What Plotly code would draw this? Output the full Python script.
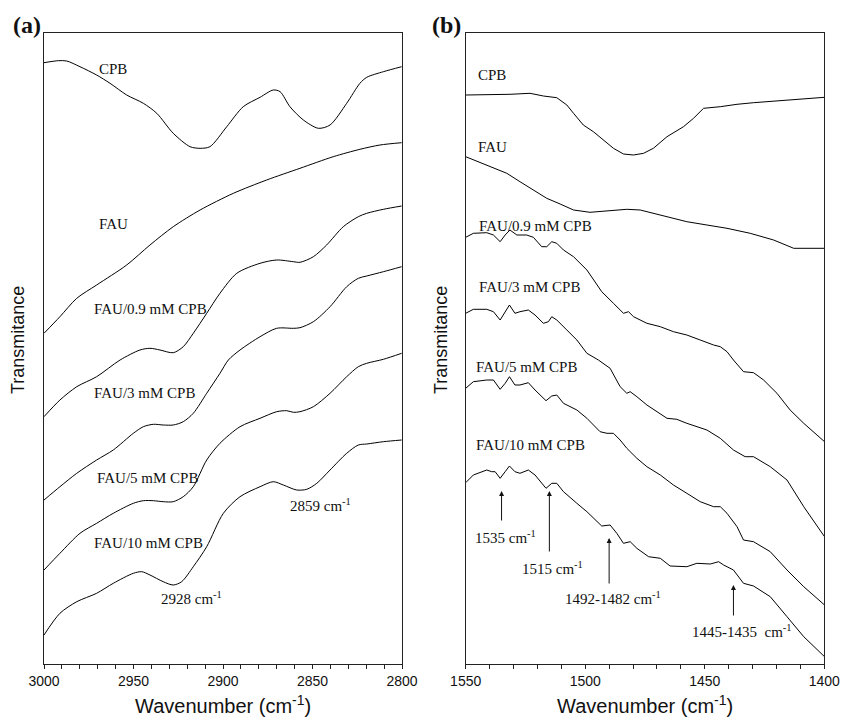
import plotly.graph_objects as go

# ---------------- Panel (a): C-H stretching region ----------------
wn_a = {
    "CPB": [3000, 2992, 2987.3, 2979.9, 2970.6, 2963.1, 2953.8, 2944.5, 2937, 2927.8, 2918.4, 2912.8,
            2907.3, 2897.9, 2888.7, 2879.3, 2871.9, 2868.1, 2862.6, 2855.1, 2846.7, 2840.2, 2830.9,
            2823.5, 2819.7, 2810.4, 2800.2],
    "FAU": [3000, 2991.1, 2981.7, 2970.6, 2953.8, 2940.8, 2927.8, 2912.8, 2894.2, 2875.6, 2857,
            2838.4, 2823.5, 2812.3, 2800.2],
    "FAU/0.9": [3000, 2991.1, 2981.7, 2970.6, 2957.5, 2946.4, 2940.8, 2935.2, 2927.8, 2922.2, 2916.6,
                2909.1, 2901.7, 2892.3, 2879.3, 2870, 2860.7, 2857, 2849.5, 2842.1, 2832.8, 2824.4,
                2819.7, 2810.4, 2800.2],
    "FAU/3": [3000, 2991.1, 2981.7, 2970.6, 2961.3, 2950.1, 2944.5, 2938.9, 2933.4, 2927.8, 2922.2,
              2916.6, 2909.1, 2901.7, 2897, 2890.5, 2879.3, 2870, 2860.7, 2857, 2849.5, 2840.2,
              2830.9, 2824.4, 2819.7, 2810.4, 2800.2],
    "FAU/5": [3000, 2991.1, 2979.9, 2970.6, 2961.3, 2950.1, 2944.5, 2938.9, 2933.4, 2927.8, 2922.2,
              2916.6, 2909.1, 2901.7, 2890.5, 2879.3, 2870, 2864.4, 2860.7, 2857, 2849.5, 2840.2,
              2830.9, 2824.4, 2819.7, 2810.4, 2800.2],
    "FAU/10": [3000, 2991.1, 2981.7, 2970.6, 2961.3, 2950.1, 2945.4, 2940.8, 2933.4, 2927.8, 2923.1,
               2916.6, 2909.1, 2899.8, 2890.5, 2879.3, 2871.9, 2866.3, 2858.8, 2853.2, 2847.6, 2840.2,
               2830.9, 2824.4, 2819.7, 2810.4, 2800.2],
}
t_a = {
    "CPB": [601.3, 603.3, 603, 597.3, 589, 580.7, 569, 560.7, 550.7, 530.7, 517.3, 515.7, 517.3, 537.3,
            557.3, 566.7, 574, 572.3, 557.3, 544, 535.7, 539, 560.7, 580.7, 586.7, 592.3, 597.3],
    "FAU": [330.7, 347.3, 365.7, 379, 399, 419, 437.3, 454, 470.7, 484, 495.7, 507.3, 514.7, 519, 521.3],
    "FAU/0.9": [247.3, 264, 277.3, 287.3, 304, 314, 315.7, 314, 311.3, 317.3, 330.7, 350.7, 370.7,
                390.7, 400.7, 404, 402.3, 401.7, 407.3, 419, 437.3, 447.3, 450.7, 454.7, 458],
    "FAU/3": [164, 177.3, 190.7, 204, 214, 230.7, 237.3, 239.7, 239, 239, 242.3, 250.7, 270.7, 290.7,
              304, 314, 327.3, 335.7, 335.7, 336.3, 342.3, 357.3, 377.3, 385.7, 388, 392.3, 397.3],
    "FAU/5": [94, 110.7, 130.7, 140.7, 150.7, 160.7, 163.3, 163.3, 162.3, 162.3, 167.3, 177.3, 204,
              220.7, 237.3, 245.7, 252.3, 253.3, 251.7, 252.3, 257.3, 270.7, 287.3, 297.3, 300.7,
              304.7, 310.7],
    "FAU/10": [29, 50.7, 62.3, 70.7, 80.7, 90.7, 92.3, 89, 82.3, 79, 82.3, 97.3, 117.3, 150.7, 167.3,
               177.3, 182.3, 179, 174, 174.7, 180.7, 194, 210.7, 219, 220, 222.3, 224],
}

# ---------------- Panel (b): ring / CH2 bending region ----------------
wn_b = {
    "CPB": [1550, 1541.2, 1531.5, 1523.1, 1517.5, 1511.9, 1507.7, 1504.9, 1500.8, 1496.6, 1492.4,
            1488.2, 1484, 1479.8, 1475.6, 1471.5, 1465.8, 1458.9, 1454.7, 1450.5, 1443.5, 1436.5,
            1429.6, 1415.6, 1399.9],
    "FAU": [1550, 1541.2, 1532.8, 1527.3, 1521.7, 1516.1, 1510.5, 1504.9, 1498, 1491, 1482.6, 1477,
            1471.5, 1463.1, 1457.5, 1449.1, 1440.7, 1431, 1421.2, 1412.8, 1399.9],
    "FAU/0.9": [1550, 1546.8, 1541.2, 1538.4, 1535.6, 1533.5, 1531.5, 1528.6, 1524.5, 1521.7, 1518.2,
                1516.1, 1514, 1511.9, 1509.1, 1504.9, 1499.3, 1493.1, 1488.2, 1484, 1481.9, 1479.8,
                1474.2, 1468.6, 1463.1, 1457.5, 1451.9, 1446.3, 1443.5, 1440.7, 1438, 1433.8,
                1429.6, 1425.4, 1419.8, 1414.3, 1408.6, 1399.9],
    "FAU/3": [1550, 1546.8, 1541.2, 1538.4, 1535.6, 1533.5, 1531.7, 1529.4, 1527.3, 1523.8, 1521,
              1517.5, 1515.4, 1514, 1511.9, 1507.7, 1503.5, 1499.3, 1494.5, 1489.6, 1485.4, 1482.6,
              1481.2, 1478.4, 1474.2, 1465.8, 1461.7, 1457.5, 1449.1, 1443.5, 1438, 1433.1,
              1429.6, 1422.6, 1415.6, 1408.6, 1399.9],
    "FAU/5": [1550, 1546.8, 1541.2, 1538.4, 1535.6, 1533.5, 1531.7, 1529.4, 1527.3, 1523.8, 1521,
              1516.4, 1514, 1511.9, 1509.1, 1503.5, 1499.3, 1493.8, 1490.9, 1488.2, 1485.4, 1482.6,
              1478.4, 1474.2, 1468.6, 1463.1, 1457.5, 1451.9, 1446.3, 1443.5, 1440.7, 1436.5,
              1433.8, 1429.6, 1422.6, 1415.6, 1408.6, 1399.9],
    "FAU/10": [1550, 1546.8, 1541.2, 1539.1, 1537.7, 1535.6, 1533.5, 1531.7, 1529.4, 1527.3, 1523.8,
               1521, 1516.4, 1514, 1511.9, 1509.1, 1503.5, 1499.3, 1493.1, 1489.6, 1486.8, 1484,
               1481.2, 1478.4, 1473.5, 1468.6, 1464.5, 1457.5, 1453.3, 1447.7, 1444.2, 1442.1,
               1438, 1433.8, 1429.6, 1422.6, 1415.6, 1408.6, 1399.9],
}
t_b = {
    "CPB": [569, 569, 569.7, 570.7, 568, 566.3, 559, 550.7, 539, 532.3, 524, 515.7, 510, 509, 510.7,
            515.7, 527.3, 537.3, 545.7, 555.7, 557.3, 559.7, 561.3, 564, 566.7],
    "FAU": [507.3, 499, 490.7, 482.3, 474, 465.7, 460, 454, 451.7, 453.3, 454.7, 454, 450.7, 445.7,
            442.3, 439, 435.7, 430.7, 424, 415.7, 415.7],
    "FAU/0.9": [426.7, 430.7, 431.3, 429, 422.3, 429, 434, 429, 429, 426.7, 417.3, 417.3, 422.3,
                420.7, 414, 407.3, 394, 372.3, 360.7, 350.7, 352.3, 347.3, 340.7, 337.3, 332.3,
                329, 324, 319, 317.3, 312.3, 304, 292.3, 291.3, 284, 270.7, 254, 240.7, 222.3],
    "FAU/3": [350.7, 354.7, 354.7, 352.3, 344, 352.3, 359, 350.7, 352.3, 354, 349, 340.7, 342.3,
              347.3, 344, 334, 324, 310.7, 304, 295.7, 277.3, 270.7, 272.3, 267.3, 259, 245.7,
              244.7, 240.7, 234, 225.7, 214, 207.3, 207.3, 197.3, 184, 157.3, 127.3],
    "FAU/5": [275.7, 282.3, 284, 284, 274.7, 280.7, 287.3, 279, 279, 281.3, 274, 263.3, 268, 269,
              260.7, 254, 245.7, 232.3, 230.7, 230.7, 224, 215.7, 205.7, 197.3, 189, 179, 170.7,
              162.3, 157.3, 157.3, 150.7, 137.3, 124, 122.3, 112.3, 94, 77.3, 59],
    "FAU/10": [181.3, 189, 194, 192.3, 192.3, 185.7, 192.3, 198, 192.3, 190.7, 194, 189, 175.7,
               180.7, 180.7, 172.3, 160.7, 152.3, 138, 139, 130.7, 120.7, 122.3, 115.7, 107.3,
               105.7, 98, 97.3, 100.7, 100, 102.3, 99, 94, 80.7, 78, 67.3, 47.3, 27.3, 7.3],
}

labels = {
    "CPB": "CPB",
    "FAU": "FAU",
    "FAU/0.9": "FAU/0.9 mM CPB",
    "FAU/3": "FAU/3 mM CPB",
    "FAU/5": "FAU/5 mM CPB",
    "FAU/10": "FAU/10 mM CPB",
}

# band assignments marked in panel (b)
bands_b = [1535, 1515, 1490, 1438]
band_text_b = ["1535 cm<sup>-1</sup>", "1515 cm<sup>-1</sup>",
               "1492-1482 cm<sup>-1</sup>", "1445-1435  cm<sup>-1</sup>"]

W, H = 845, 718
SERIF = "Liberation Serif, Times New Roman, serif"
SANS = "Liberation Sans, Arial, Helvetica, sans-serif"
INK = "#111"

fig = go.Figure()
for key in wn_a:
    fig.add_trace(go.Scatter(x=wn_a[key], y=t_a[key], mode="lines", xaxis="x", yaxis="y",
                             line=dict(color="black", width=1, smoothing=0.8), line_shape="spline",
                             showlegend=False, hoverinfo="skip"))
for key in wn_b:
    fig.add_trace(go.Scatter(x=wn_b[key], y=t_b[key], mode="lines", xaxis="x2", yaxis="y2",
                             line=dict(color="black", width=1),
                             showlegend=False, hoverinfo="skip"))


def px(x):
    return x / W


def py(y):
    return 1 - y / H


ydom = [py(664), py(33)]
xcommon = dict(showline=True, linecolor="#222", linewidth=1, mirror=True, ticks="outside",
               ticklen=4, tickcolor="#222", showgrid=False, zeroline=False, dtick=50,
               automargin=False,
               tickfont=dict(family=SANS, size=14, color=INK),
               minor=dict(ticks="outside", dtick=10, ticklen=4, tickcolor="#222"))
ycommon = dict(showline=True, linecolor="#222", linewidth=1, mirror=True, ticks="",
               automargin=False,
               showticklabels=False, showgrid=False, zeroline=False, range=[0, 631], domain=ydom)

fig.update_layout(
    width=W, height=H, margin=dict(l=0, r=0, t=0, b=0, autoexpand=False),
    paper_bgcolor="white", plot_bgcolor="white",
    xaxis=dict(domain=[px(44), px(402)], range=[3000, 2800], tick0=3000, anchor="y", **xcommon),
    yaxis=dict(anchor="x", **ycommon),
    xaxis2=dict(domain=[px(465.7), px(824.3)], range=[1550, 1400], tick0=1550, anchor="y2", **xcommon),
    yaxis2=dict(anchor="x2", **ycommon),
)

lab_font = dict(family=SERIF, size=15, color=INK)
ann = []
# curve labels, panel (a)
pos_a = {"CPB": (2970.4, 595), "FAU": (2970.4, 440), "FAU/0.9": (2973.2, 355),
         "FAU/3": (2973.2, 271), "FAU/5": (2971.5, 186), "FAU/10": (2973.2, 121)}
for k, (x, y) in pos_a.items():
    ann.append(dict(x=x, y=y, xref="x", yref="y", text=labels[k], showarrow=False,
                    xanchor="left", yanchor="middle", font=lab_font))
ann.append(dict(x=2935.7, y=66, xref="x", yref="y", text="2928 cm<sup>-1</sup>", showarrow=False,
                xanchor="left", yanchor="middle", font=lab_font))
ann.append(dict(x=2863.7, y=159, xref="x", yref="y", text="2859 cm<sup>-1</sup>", showarrow=False,
                xanchor="left", yanchor="middle", font=lab_font))

# curve labels, panel (b)
pos_b = {"CPB": (1545.7, 589), "FAU": (1545.7, 517), "FAU/0.9": (1545.4, 438),
         "FAU/3": (1545.4, 377), "FAU/5": (1546.5, 297), "FAU/10": (1546.5, 219)}
for k, (x, y) in pos_b.items():
    ann.append(dict(x=x, y=y, xref="x2", yref="y2", text=labels[k], showarrow=False,
                    xanchor="left", yanchor="middle", font=lab_font))

# arrows marking bands
arrow_tip = [173, 173, 126, 79]
arrow_tail = [142, 111, 79, 47]
text_pos = [(1533.5, 127), (1513.7, 96), (1488.3, 66), (1434.5, 33)]
for b, tip, tail, txt, (tx, ty) in zip(bands_b, arrow_tip, arrow_tail, band_text_b, text_pos):
    ann.append(dict(x=b, y=tip, ax=b, ay=tail, xref="x2", yref="y2", axref="x2", ayref="y2",
                    text="", showarrow=True, arrowhead=2, arrowsize=1, arrowwidth=1,
                    arrowcolor=INK))
    ann.append(dict(x=tx, y=ty, xref="x2", yref="y2", text=txt, showarrow=False,
                    xanchor="center", yanchor="middle", font=lab_font))

# axis titles
for cx in [(44 + 402) / 2, (465.7 + 824.3) / 2]:
    ann.append(dict(x=px(cx), y=py(704), xref="paper", yref="paper",
                    text="Wavenumber (cm<sup>-1</sup>)", showarrow=False,
                    xanchor="center", yanchor="middle", font=dict(family=SANS, size=20, color=INK)))
for cx in [18, 441]:
    ann.append(dict(x=px(cx), y=py(340), xref="paper", yref="paper", text="Transmitance",
                    textangle=-90, showarrow=False, xanchor="center", yanchor="middle",
                    font=dict(family=SANS, size=18, color=INK)))

# panel letters
for cx, t in [(27, "(a)"), (447, "(b)")]:
    ann.append(dict(x=px(cx), y=py(25), xref="paper", yref="paper", text="<b>" + t + "</b>",
                    showarrow=False, xanchor="center", yanchor="middle",
                    font=dict(family=SERIF, size=24, color=INK)))

fig.update_layout(annotations=ann)
fig.write_html("out.html")
